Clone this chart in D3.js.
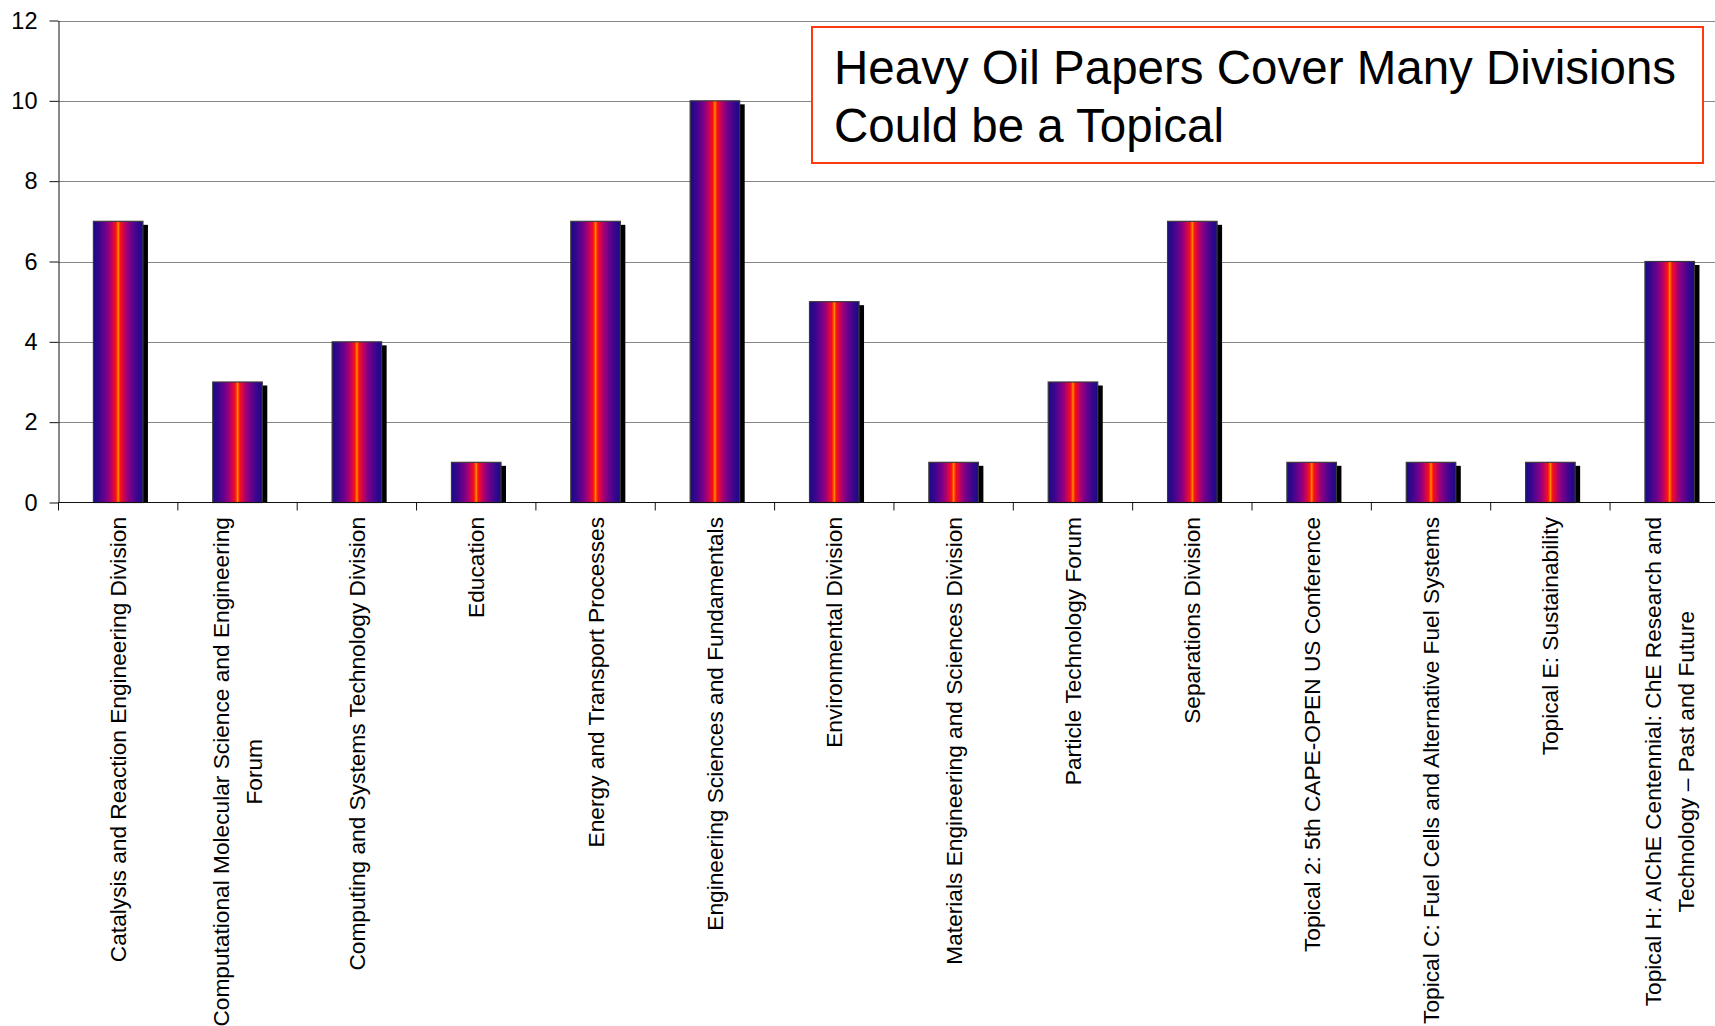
<!DOCTYPE html>
<html>
<head>
<meta charset="utf-8">
<script src="https://cdn.jsdelivr.net/npm/d3@7"></script>
<style>
  html, body { margin: 0; padding: 0; background: #fff; }
  svg { display: block; font-family: "Liberation Sans", Arial, sans-serif; }
</style>
</head>
<body>
<svg id="chart" width="1715" height="1026"></svg>
<script>
// Paper counts per AIChE programming division (line breaks mark wrapped labels)
const categories = [
  "Catalysis and Reaction Engineering Division",
  "Computational Molecular Science and Engineering\nForum",
  "Computing and Systems Technology Division",
  "Education",
  "Energy and Transport Processes",
  "Engineering Sciences and Fundamentals",
  "Environmental Division",
  "Materials Engineering and Sciences Division",
  "Particle Technology Forum",
  "Separations Division",
  "Topical 2: 5th CAPE-OPEN US Conference",
  "Topical C: Fuel Cells and Alternative Fuel Systems",
  "Topical E: Sustainability",
  "Topical H: AIChE Centennial: ChE Research and\nTechnology \u2013 Past and Future"
];
const paperCounts = [7, 3, 4, 1, 7, 10, 5, 1, 3, 7, 1, 1, 1, 6];
const yTicks = [0, 2, 4, 6, 8, 10, 12];
const titleLines = [
  "Heavy Oil Papers Cover Many Divisions",
  "Could be a Topical"
];

const svg = d3.select("#chart");
const W = 1715;

const plot = { left: 58.5, top: 20.5, bottom: 502.5, step: 119.35 };
const plotRight = plot.left + plot.step * categories.length;

const x = d3.scaleBand()
  .domain(categories)
  .range([plot.left, plotRight])
  .paddingInner(0.585)
  .paddingOuter(0.585 / 2);

const y = d3.scaleLinear().domain([0, 12]).range([plot.bottom, plot.top]);

// Fire-style gradient running across each bar, bright stripe in the middle
const defs = svg.append("defs");
const grad = defs.append("linearGradient")
  .attr("id", "barFire")
  .attr("x1", 0).attr("x2", 1).attr("y1", 0).attr("y2", 0);
[
  [0.00, "#1a0a84"],
  [0.12, "#3a068e"],
  [0.26, "#78008a"],
  [0.34, "#a80070"],
  [0.40, "#d6064a"],
  [0.45, "#f2101c"],
  [0.475, "#ff3a00"],
  [0.50, "#ff9000"],
  [0.525, "#ff3a00"],
  [0.55, "#f2101c"],
  [0.60, "#d6064a"],
  [0.66, "#a80070"],
  [0.74, "#78008a"],
  [0.88, "#3a068e"],
  [1.00, "#1a0a84"]
].forEach(([o, c]) => grad.append("stop").attr("offset", o).attr("stop-color", c));

// Horizontal gridlines
svg.append("g")
  .selectAll("line")
  .data(yTicks.filter(d => d > 0))
  .join("line")
  .attr("x1", plot.left).attr("x2", W)
  .attr("y1", d => Math.round(y(d)) + 0.5).attr("y2", d => Math.round(y(d)) + 0.5)
  .attr("stroke", "#858585").attr("stroke-width", 1);

// Y axis
const yAxis = svg.append("g")
  .attr("transform", `translate(${plot.left},0)`)
  .call(d3.axisLeft(y).tickValues(yTicks).tickSize(9).tickPadding(12).tickSizeOuter(0));
yAxis.attr("font-family", null).attr("font-size", null);
yAxis.select(".domain").attr("stroke", "#111");
yAxis.selectAll(".tick line").attr("stroke", "#111");
yAxis.selectAll(".tick text")
  .attr("font-size", 23.5).attr("fill", "#000");

// Bars: drop shadow first, then the gradient body
const bars = svg.append("g");
bars.selectAll("rect.shadow")
  .data(paperCounts)
  .join("rect")
  .attr("class", "shadow")
  .attr("x", (d, i) => x(categories[i]) + 5)
  .attr("y", d => y(d) + 3.5)
  .attr("width", x.bandwidth())
  .attr("height", d => y(0) - y(d) - 3.5)
  .attr("fill", "#000");
bars.selectAll("rect.bar")
  .data(paperCounts)
  .join("rect")
  .attr("class", "bar")
  .attr("x", (d, i) => x(categories[i]))
  .attr("y", d => y(d))
  .attr("width", x.bandwidth())
  .attr("height", d => y(0) - y(d))
  .attr("fill", "url(#barFire)")
  .attr("stroke", "#3a3a3a")
  .attr("stroke-width", 1.2);

// X axis line with tick marks between categories
const xAxis = svg.append("g");
xAxis.append("line")
  .attr("x1", plot.left).attr("x2", W)
  .attr("y1", plot.bottom).attr("y2", plot.bottom)
  .attr("stroke", "#111").attr("stroke-width", 1.2);
xAxis.selectAll("line.tick")
  .data(d3.range(categories.length + 1))
  .join("line")
  .attr("class", "tick")
  .attr("x1", i => plot.left + i * x.step()).attr("x2", i => plot.left + i * x.step())
  .attr("y1", plot.bottom).attr("y2", plot.bottom + 8)
  .attr("stroke", "#111").attr("stroke-width", 1);

// Rotated category labels, wrapped lines centred on each band
const labelTop = 517;
const lineGap = 33;
const labels = svg.append("g").attr("font-size", 22.7).attr("fill", "#000");
categories.forEach((name, i) => {
  const lines = name.split("\n");
  const cx = x(name) + x.bandwidth() / 2;
  const g = labels.append("g");
  const texts = lines.map((ln, k) => g.append("text")
    .attr("text-anchor", "middle")
    .attr("dy", "0.35em")
    .text(ln));
  const maxLen = d3.max(texts, t => t.node().getComputedTextLength());
  const mid = labelTop + maxLen / 2;
  texts.forEach((t, k) => {
    const off = (k - (lines.length - 1) / 2) * lineGap;
    t.attr("transform", `translate(${cx + off},${mid}) rotate(-90)`);
  });
});

// Annotation box
const box = svg.append("g");
box.append("rect")
  .attr("x", 812).attr("y", 27)
  .attr("width", 891).attr("height", 136)
  .attr("fill", "#fff")
  .attr("stroke", "#ff3a10").attr("stroke-width", 2);
box.selectAll("text")
  .data(titleLines)
  .join("text")
  .attr("x", 834)
  .attr("y", (d, i) => 83.5 + i * 58)
  .attr("font-size", 47.5)
  .attr("fill", "#000")
  .text(d => d);
</script>
</body>
</html>
